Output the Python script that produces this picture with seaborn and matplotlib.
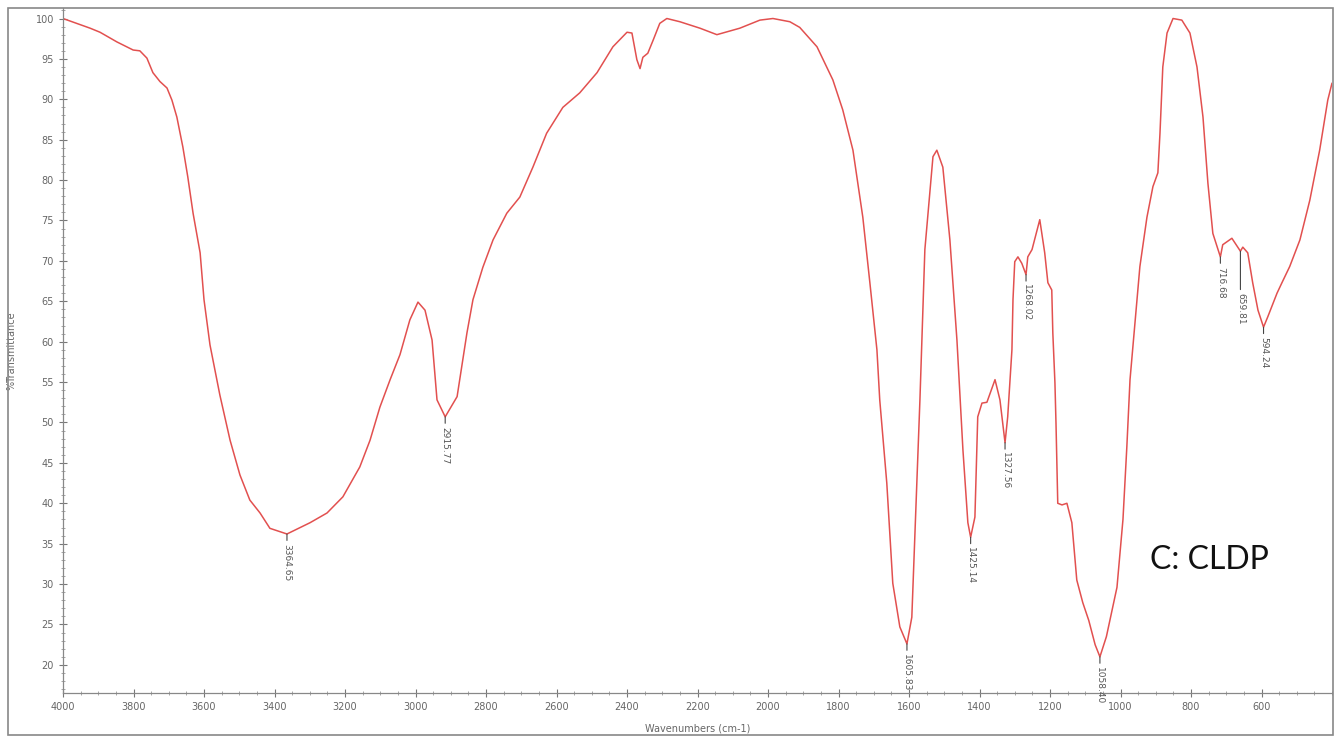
import matplotlib
matplotlib.use("Agg")
import matplotlib.pyplot as plt
import seaborn as sns
import pandas as pd
from matplotlib.patches import Rectangle
from matplotlib.ticker import MultipleLocator

# FTIR spectrum (wavenumber in cm-1, %T)
wavenumber = [
    4000, 3923, 3895, 3847, 3801, 3782, 3762, 3745, 3725, 3705,
    3691, 3677, 3660, 3646, 3631, 3611, 3600, 3583, 3555, 3526,
    3498, 3470, 3441, 3413, 3364.65, 3299, 3251, 3206, 3158, 3129,
    3101, 3072, 3044, 3016, 2993, 2973, 2953, 2939, 2915.77, 2882,
    2854, 2837, 2809, 2780, 2741, 2704, 2667, 2628, 2582, 2534,
    2485, 2440, 2400, 2386, 2372, 2363, 2355, 2341, 2326, 2307,
    2287, 2250, 2193, 2145, 2080, 2023, 1986, 1938, 1910, 1861,
    1816, 1788, 1759, 1731, 1711, 1691, 1683, 1663, 1646, 1626,
    1605.83, 1592, 1578, 1569, 1555, 1532, 1521, 1504, 1484, 1464,
    1447, 1433, 1425.14, 1413, 1405, 1393, 1379, 1356, 1342, 1327.56,
    1320, 1308, 1305, 1300, 1291, 1280, 1268.02, 1263, 1251, 1229,
    1215, 1206, 1195, 1192, 1186, 1183, 1178, 1166, 1152, 1138,
    1124, 1107, 1090, 1072, 1058.40, 1040, 1010, 993, 982, 973,
    945, 925, 908, 894, 888, 880, 868, 851, 826, 803,
    783, 766, 752, 738, 716.68, 710, 684, 659.81, 653, 639,
    625, 610, 594.24, 582, 556, 542, 520, 491, 463, 435,
    412, 400,
]
transmittance = [
    100.0, 98.8, 98.3, 97.1, 96.1, 96.0, 95.1, 93.3, 92.2, 91.4,
    89.9, 87.8, 84.1, 80.4, 75.9, 71.0, 65.2, 59.6, 53.4, 47.8,
    43.5, 40.4, 38.8, 36.9, 36.2, 37.6, 38.8, 40.8, 44.5, 47.8,
    51.9, 55.3, 58.4, 62.7, 64.9, 63.9, 60.2, 52.8, 50.7, 53.2,
    61.1, 65.2, 69.2, 72.6, 75.9, 77.9, 81.6, 85.8, 89.0, 90.8,
    93.3, 96.5, 98.3, 98.2, 94.9, 93.8, 95.2, 95.7, 97.3, 99.4,
    100.0, 99.6, 98.8, 98.0, 98.8, 99.8, 100.0, 99.6, 98.9, 96.5,
    92.4, 88.7, 83.7, 75.4, 67.3, 59.0, 52.8, 42.5, 30.1, 24.7,
    22.6, 25.9, 42.5, 52.8, 71.4, 82.9, 83.7, 81.6, 72.6, 60.2,
    46.6, 37.6, 35.8, 38.3, 50.7, 52.4, 52.5, 55.3, 52.8, 47.5,
    50.7, 59.0, 65.2, 69.9, 70.5, 69.7, 68.3, 70.5, 71.4, 75.1,
    71.0, 67.3, 66.4, 61.1, 54.9, 49.9, 40.0, 39.8, 40.0, 37.6,
    30.5, 27.7, 25.5, 22.5, 21.0, 23.5, 29.6, 38.0, 47.0, 55.3,
    69.3, 75.4, 79.2, 80.9, 85.8, 94.0, 98.2, 100.0, 99.8, 98.2,
    94.0, 87.8, 79.6, 73.4, 70.5, 72.0, 72.8, 71.2, 71.7, 71.0,
    67.3, 63.9, 61.8, 63.1, 66.0, 67.3, 69.3, 72.6, 77.5, 83.7,
    89.9, 92.0,
]

# labelled peaks
peak_wn = [3364.65, 2915.77, 1605.83, 1425.14, 1327.56, 1268.02, 1058.40, 716.68, 659.81, 594.24]
peak_t = [36.2, 50.7, 22.6, 35.8, 47.5, 68.3, 21.0, 70.5, 71.2, 61.8]

df = pd.DataFrame({"Wavenumber": wavenumber, "Transmittance": transmittance})

sns.set_style("white")
plt.rcParams['font.family'] = ['DejaVu Sans']

fig = plt.figure(figsize=(13.35, 7.38), dpi=100)
ax = fig.add_axes([63 / 1335, 45 / 738, 1269 / 1335, 685 / 738])

sns.lineplot(data=df, x="Wavenumber", y="Transmittance", ax=ax,
             color="#e2504f", linewidth=1.1, estimator=None, sort=False)

ax.set_xlim(4000, 400)
ax.set_ylim(16.52, 101.3)

ax.xaxis.set_major_locator(MultipleLocator(200))
ax.xaxis.set_minor_locator(MultipleLocator(50))
ax.yaxis.set_major_locator(MultipleLocator(5))
ax.yaxis.set_minor_locator(MultipleLocator(1))
ax.set_xticks([t for t in range(4000, 599, -200)])
ax.tick_params(which="major", direction="inout", length=6, width=0.8,
               color="#777777", labelsize=7, labelcolor="#666666")
ax.tick_params(which="minor", direction="inout", length=3, width=0.6,
               color="#999999")
ax.tick_params(axis="x", which="both", bottom=True)
ax.tick_params(axis="y", which="both", left=True)

for side in ["top", "right"]:
    ax.spines[side].set_visible(False)
for side in ["left", "bottom"]:
    ax.spines[side].set_color("#888888")
    ax.spines[side].set_linewidth(0.9)

ax.set_xlabel("Wavenumbers (cm-1)", fontsize=7, color="#666666", labelpad=8)
ax.set_ylabel("%Transmittance", fontsize=7, color="#666666")
ax.yaxis.set_label_coords(-0.037, 0.5)

# peak labels: short leader line below each band minimum
leader = {659.81: 30}
for wn, t in zip(peak_wn, peak_t):
    ax.annotate(f"{wn:.2f}", xy=(wn, t), xytext=(0, -leader.get(wn, 7)),
                textcoords="offset points", rotation=270, ha="center", va="top",
                fontsize=6.5, color="#555555",
                arrowprops=dict(arrowstyle="-", color="#444444", lw=0.8,
                                shrinkA=0, shrinkB=0))

ax.text(1150 / 1335, 1 - 560 / 738, "C: CLDP", transform=fig.transFigure,
        fontsize=23, family="Lato", va="center", ha="left", color="#111111")

# outer frame of the picture
fig.patches.append(Rectangle((8 / 1335, 3 / 738), 1325 / 1335, 727 / 738,
                             transform=fig.transFigure, fill=False,
                             edgecolor="#888888", linewidth=1.2))

fig.savefig("out.png", dpi=100)
